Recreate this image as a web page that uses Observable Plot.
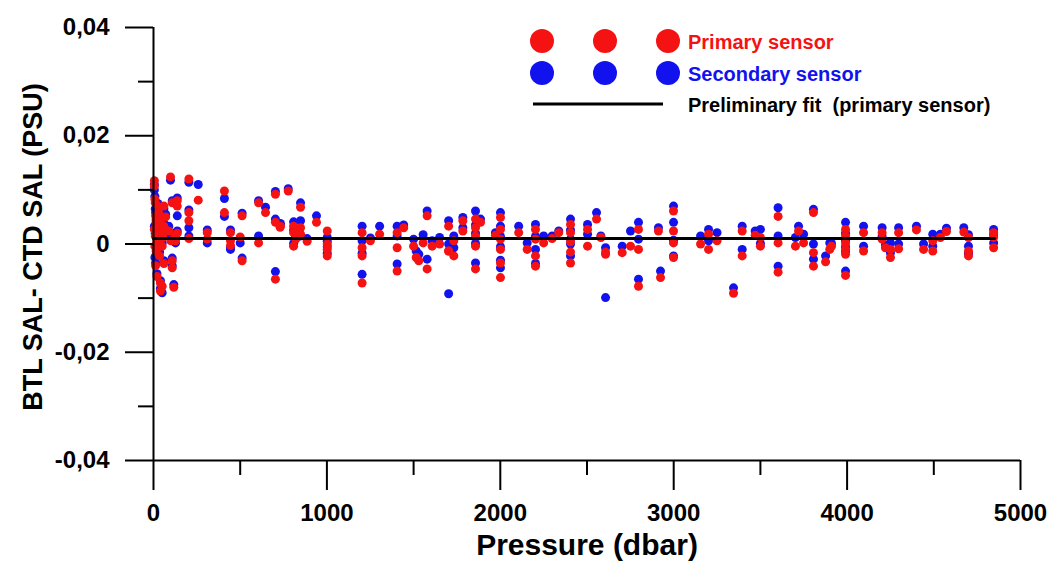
<!DOCTYPE html>
<html><head><meta charset="utf-8">
<script src="https://cdn.jsdelivr.net/npm/d3@7"></script>
<script src="https://cdn.jsdelivr.net/npm/@observablehq/plot@0.6"></script>
<style>
html,body{margin:0;padding:0;background:#fff;}
#wrap{position:relative;width:1053px;height:567px;overflow:hidden;font-family:Arial,"Liberation Sans",sans-serif;}
</style></head><body><div id="wrap"></div>
<script>
// Pressure (dbar) of each bottle comparison
const pressure = [
  5,5,8,10,12,15,5,10,20,8,15,25,30,40,30,45,25,35,60,60,55,50,60,70,88,100,108,108,108,98,125,127,137,137,137,40,50,40,117,20,12,
  204,258,204,204,204,310,310,409,409,444,444,444,500,511,511,606,646,606,703,703,730,703,777,732,808,808,820,808,848,848,848,886,940,
  1002,1002,1002,1002,1203,1203,1203,1203,1251,1304,1405,1405,1405,1443,1500,1515,1530,1555,1578,1578,1607,1650,1702,1702,1702,1732,1732,1784,1784,
  1857,1857,1857,1857,1857,1886,1972,2001,2001,2001,2001,2001,2001,2106,2155,2203,2203,2203,2203,2250,2299,2337,2405,2405,2405,2405,2405,
  2503,2503,2555,2580,2607,2607,2703,2751,2797,2797,2797,2912,2924,2999,2999,2999,2999,3155,3201,3201,3250,3345,3395,3395,3470,3500,3500,
  3602,3602,3602,3702,3720,3749,3806,3806,3806,3876,3900,3910,3991,3991,3991,3991,3991,3991,4095,4095,4202,4202,4221,4250,4250,4297,4297,
  4400,4441,4494,4494,4538,4573,4673,4700,4700,4700,4845,4845,4845
];
// BTL SAL - CTD SAL, primary sensor (PSU)
const primary = [
  0.0117,0.0107,0.0083,0.0076,0.0052,0.0040,0.0027,0.0015,0.0006,-0.0004,-0.0013,0.0070,0.0058,0.0045,0.0030,0.0021,-0.0007,-0.0022,0.0070,0.0033,0.0012,-0.0004,-0.0036,0.0050,0.0024,0.0006,0.0076,-0.0031,-0.0044,0.0124,0.0015,0.0006,0.0080,0.0070,0.0020,-0.0072,-0.0078,-0.0087,-0.0080,-0.0060,-0.0040,
  0.0120,0.0081,0.0058,0.0043,0.0010,0.0021,0.0009,0.0098,0.0058,0.0021,0.0006,-0.0003,0.0013,0.0052,-0.0031,0.0076,0.0058,0.0002,0.0092,0.0040,0.0031,-0.0065,0.0098,0.0033,0.0033,0.0021,0.0009,-0.0004,0.0030,0.0068,0.0018,0.0005,0.0040,
  0.0024,0.0000,-0.0010,-0.0022,0.0021,-0.0007,-0.0022,-0.0072,0.0006,0.0018,0.0021,-0.0007,-0.0050,0.0030,-0.0004,-0.0025,-0.0031,0.0002,0.0052,-0.0046,-0.0004,0.0000,0.0033,-0.0013,-0.0013,0.0006,-0.0022,0.0024,0.0043,
  0.0046,0.0030,0.0015,-0.0004,-0.0046,0.0040,0.0016,0.0049,0.0027,0.0009,-0.0010,-0.0035,-0.0062,0.0021,-0.0010,0.0027,0.0009,-0.0022,-0.0041,0.0002,0.0010,0.0021,0.0036,0.0021,0.0004,-0.0035,-0.0015,
  0.0027,-0.0004,0.0046,0.0012,-0.0019,-0.0015,-0.0016,-0.0004,0.0027,-0.0010,-0.0078,0.0024,-0.0062,0.0061,0.0024,0.0002,-0.0025,0.0000,0.0018,-0.0010,0.0006,-0.0091,0.0024,-0.0022,0.0016,0.0012,-0.0004,
  0.0051,0.0002,-0.0052,-0.0004,0.0024,0.0002,0.0058,-0.0016,-0.0041,-0.0033,-0.0010,-0.0004,0.0027,0.0015,0.0002,-0.0010,-0.0019,-0.0058,0.0021,-0.0013,0.0021,0.0009,-0.0007,-0.0010,-0.0025,0.0021,-0.0009,
  0.0026,-0.0010,0.0006,-0.0013,0.0012,0.0023,0.0022,0.0012,-0.0013,-0.0022,0.0021,0.0012,-0.0007
];
// BTL SAL - CTD SAL, secondary sensor (PSU)
const secondary = [
  0.0110,0.0100,0.0088,0.0065,0.0058,0.0045,0.0033,0.0020,-0.0016,-0.0025,-0.0020,0.0075,0.0060,0.0050,0.0036,0.0025,-0.0003,-0.0015,0.0065,0.0038,0.0018,0.0002,-0.0031,0.0055,0.0033,0.0012,0.0080,-0.0026,-0.0040,0.0118,0.0020,0.0002,0.0085,0.0052,0.0024,-0.0068,-0.0090,-0.0082,-0.0075,-0.0055,-0.0035,
  0.0114,0.0110,0.0063,0.0030,0.0015,0.0026,0.0002,0.0084,0.0051,0.0026,-0.0007,-0.0010,0.0002,0.0057,-0.0026,0.0080,0.0068,0.0015,0.0097,0.0046,0.0036,-0.0051,0.0102,0.0038,0.0041,0.0026,0.0014,0.0001,0.0043,0.0076,0.0015,0.0010,0.0052,
  0.0012,0.0005,-0.0005,-0.0017,0.0033,0.0006,-0.0017,-0.0056,0.0011,0.0033,0.0033,0.0015,-0.0037,0.0035,0.0009,-0.0013,-0.0019,0.0017,0.0061,-0.0028,0.0006,0.0012,0.0043,0.0000,-0.0092,0.0015,-0.0007,0.0030,0.0049,
  0.0061,0.0035,0.0020,0.0001,-0.0035,0.0046,0.0021,0.0058,0.0033,0.0014,-0.0005,-0.0030,-0.0044,0.0033,0.0002,0.0036,0.0014,-0.0010,-0.0036,0.0015,0.0015,0.0024,0.0046,0.0026,0.0009,-0.0022,0.0000,
  0.0036,0.0018,0.0058,0.0015,-0.0007,-0.0099,-0.0004,0.0024,0.0040,0.0009,-0.0065,0.0030,-0.0050,0.0070,0.0040,0.0007,-0.0022,0.0015,0.0027,0.0006,0.0021,-0.0081,0.0033,-0.0010,0.0024,0.0027,0.0001,
  0.0067,0.0015,-0.0041,0.0012,0.0033,0.0018,0.0064,0.0000,-0.0028,-0.0022,0.0002,0.0001,0.0040,0.0020,0.0007,-0.0005,-0.0014,-0.0050,0.0033,-0.0004,0.0030,0.0014,-0.0002,0.0002,-0.0016,0.0030,0.0000,
  0.0033,0.0000,0.0018,-0.0004,0.0018,0.0029,0.0030,0.0017,-0.0004,-0.0017,0.0027,0.0017,0.0002
];
// Preliminary fit (primary sensor)
const fitPressure = [0, 4850];
const fitValue = [0.001, 0.001];
// Axis ticks
const xMajorTicks = [0, 1000, 2000, 3000, 4000, 5000];
const xMinorTicks = [500, 1500, 2500, 3500, 4500];
const yMajorTicks = [-0.04, -0.02, 0, 0.02, 0.04];
const yMinorTicks = [-0.03, -0.01, 0.01, 0.03];
const xTitle = "Pressure (dbar)";
const yTitle = "BTL SAL- CTD SAL (PSU)";
const legendLabels = ["Primary sensor", "Secondary sensor", "Preliminary fit  (primary sensor)"];

const RED = "#f51212", BLUE = "#1212ee";
const rows = pressure.map((p, i) => ({p, prim: primary[i], sec: secondary[i]}));
const fitRows = fitPressure.map((p, i) => ({p, v: fitValue[i]}));
const fmtY = d => d === 0 ? "0" : d.toFixed(2).replace(".", ",");

const chart = Plot.plot({
  width: 1053, height: 567,
  marginLeft: 153, marginRight: 33, marginTop: 27, marginBottom: 107,
  style: {fontFamily: "Arial, 'Liberation Sans', sans-serif", background: "#fff", color: "#000", overflow: "visible"},
  x: {domain: [0, 5000]},
  y: {domain: [-0.04, 0.04]},
  marks: [
    Plot.dot(rows, {x: "p", y: "sec", r: 4.5, fill: BLUE, stroke: "none"}),
    Plot.dot(rows, {x: "p", y: "prim", r: 4.5, fill: RED, stroke: "none"}),
    Plot.line(fitRows, {x: "p", y: "v", stroke: "#000", strokeWidth: 3}),
    Plot.ruleX([0], {stroke: "#000", strokeWidth: 2}),
    Plot.ruleY([-0.04], {stroke: "#000", strokeWidth: 2}),
    Plot.axisY(yMajorTicks, {tickSize: 28, tickPadding: 16, tickFormat: fmtY, fontSize: 24, fontWeight: "bold", strokeWidth: 2, stroke: "#000", label: null}),
    Plot.axisY(yMinorTicks, {tickSize: 15, tickFormat: () => "", strokeWidth: 2, stroke: "#000", label: null}),
    Plot.axisX(xMajorTicks, {tickSize: 30, tickPadding: 13, tickFormat: d => String(d), fontSize: 24, fontWeight: "bold", strokeWidth: 2, stroke: "#000", label: null}),
    Plot.axisX(xMinorTicks, {tickSize: 15, tickFormat: () => "", strokeWidth: 2, stroke: "#000", label: null}),
    Plot.text([xTitle], {frameAnchor: "bottom", dy: 94, fontSize: 30, fontWeight: "bold", fill: "#000", textAnchor: "middle"}),
    Plot.text([yTitle], {frameAnchor: "left", dx: -120, dy: 3, rotate: -90, fontSize: 27, fontWeight: "bold", fill: "#000", textAnchor: "middle"})
  ]
});
const wrap = document.getElementById("wrap");
wrap.appendChild(chart);

// Legend overlay
const leg = d3.select(wrap).append("svg")
  .attr("width", 1053).attr("height", 567)
  .style("position", "absolute").style("left", "0px").style("top", "0px")
  .style("font-family", "Arial, 'Liberation Sans', sans-serif");
const dotXs = [542, 605, 668];
[[RED, 41], [BLUE, 73]].forEach(([c, y]) => {
  dotXs.forEach(x => leg.append("circle").attr("cx", x).attr("cy", y).attr("r", 12).attr("fill", c));
});
leg.append("line").attr("x1", 533).attr("x2", 663).attr("y1", 104).attr("y2", 104).attr("stroke", "#000").attr("stroke-width", 3);
const lc = [RED, BLUE, "#000"], ly = [42, 74, 105];
legendLabels.forEach((t, i) => leg.append("text").attr("x", 688).attr("y", ly[i]).attr("dy", "0.35em")
  .attr("font-size", 20).attr("font-weight", "bold").attr("fill", lc[i]).style("white-space", "pre").text(t));
</script></body></html>
